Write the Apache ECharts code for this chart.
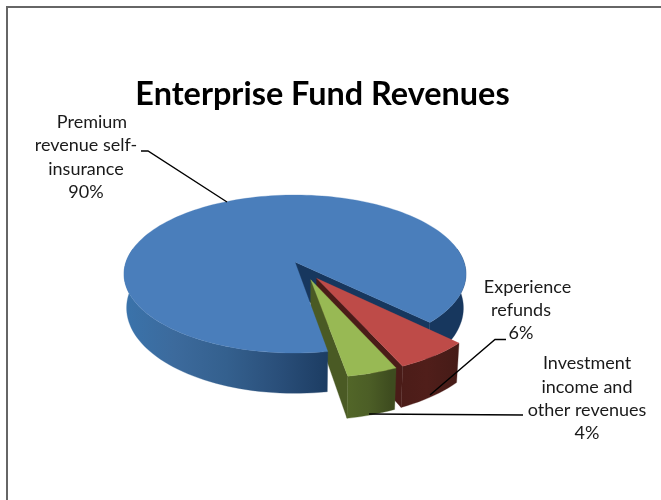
<!DOCTYPE html>
<html><head><meta charset="utf-8">
<style>html,body{margin:0;padding:0;background:#fff}#c{width:661px;height:500px}</style>
<script src="https://cdn.jsdelivr.net/npm/echarts@6/dist/echarts.min.js"></script>
</head><body><div id="c"></div>
<script>
const titleText = 'Enterprise Fund Revenues';
const categories = ['Premium revenue self-insurance', 'Experience refunds', 'Investment income and other revenues'];
const shares = [90, 6, 4];
const labelLines = [
  ['Premium', 'revenue self-', 'insurance', '90%'],
  ['Experience', 'refunds', '6%'],
  ['Investment', 'income and', 'other revenues', '4%']
];

// Layout and look (not data)
const FONT = 'Lato, "Open Sans", sans-serif';
const START_DEG = 80.5, EXPLODE = 0.12;
const OX = 295, OY = 262, BX = 169, BY = 77.2, PK = 0.152;
const labelCenters = [[[92,122],[86,145],[86,169],[86,192]], [[527.5,287],[521,310],[521,333]], [[587,363],[587,387],[587,410],[587,433]]];
const leaders = [[[141,151],[148,151],[227,202]], [[506,339.5],[495,339.5],[430,395]], [[523,415],[369,414]]];
const tops = ['#4a7ebb', '#be4b48', '#98b954'];
const walls = ['#17375e', '#4a1c18', '#4a5a24'];
const lg = (x0, x1, stops) => new echarts.graphic.LinearGradient(x0, 0, x1, 0, stops.map((c, i) => ({offset: i / (stops.length - 1), color: c})), true);
const sides = [
  [lg(124, 329, ['#3a73ab', '#3c6a9c', '#34608e', '#2a4f7a', '#1c3c62']), '#17375e'],
  [lg(393, 460, ['#4a1c18', '#501e1a', '#451b17']), '#451b17'],
  [lg(347, 391, ['#526628', '#4c5e26', '#3e4c1f']), '#3e4c1f']
];

function top3(u, v) { const d = 1 - PK * v; return [OX + BX * u / d, OY + BY * v / d]; }
function bot3(u, v) {
  const p = top3(u, v);
  return [OX + 0.985 * (p[0] - OX), p[1] + 33 + (p[1] - OY) * 0.08];
}
const rad = d => d * Math.PI / 180;
function arc(ax, ay, a0, a1, fn) {
  const pts = [], n = Math.max(2, Math.ceil(Math.abs(a1 - a0) / 2));
  for (let i = 0; i <= n; i++) { const t = rad(a0 + (a1 - a0) * i / n); pts.push(fn(ax + Math.cos(t), ay + Math.sin(t))); }
  return pts;
}
const poly = (pts, fill, z) => ({type: 'polygon', shape: {points: pts}, z2: z, style: {fill: fill, stroke: fill, lineWidth: 0.3}});
const total = shares.reduce((a, b) => a + b, 0);

function renderSlice(params, api) {
  const i = api.value(0), val = api.value(1);
  let before = 0; for (let k = 0; k < i; k++) before += shares[k];
  const a0 = START_DEG + before / total * 360, a1 = a0 + val / total * 360, mid = rad((a0 + a1) / 2);
  // apex offset, with first slice apex as projection origin
  const m0 = rad(START_DEG + shares[0] / total * 180);
  const ax = EXPLODE * (Math.cos(mid) - Math.cos(m0)), ay = EXPLODE * (Math.sin(mid) - Math.sin(m0));
  const kids = [];
  // radial walls facing the viewer
  [[a0, -1], [a1, 1]].forEach(([a, s]) => {
    const t = rad(a), ny = Math.cos(t) * s;
    if (ny > 0) {
      const u = ax + Math.cos(t), v = ay + Math.sin(t);
      kids.push(poly([top3(ax, ay), top3(u, v), bot3(u, v), bot3(ax, ay)], walls[i], 1));
    }
  });
  // outer rim, front half only
  const ranges = [];
  for (let k = -1; k <= 1; k++) {
    const lo = Math.max(a0, -10 + 360 * k), hi = Math.min(a1, 190 + 360 * k);
    if (hi > lo) ranges.push([lo, hi]);
  }
  ranges.forEach(([lo, hi]) => {
    const t = arc(ax, ay, lo, hi, top3), b = arc(ax, ay, lo, hi, bot3).reverse();
    const isRight = ((lo % 360) + 360) % 360 > 270 || ((lo % 360) + 360) % 360 < 30;
    kids.push(poly(t.concat(b), sides[i][i === 0 && isRight ? 1 : 0], 2));
  });
  // top face
  kids.push(poly([top3(ax, ay)].concat(arc(ax, ay, a0, a1, top3)), tops[i], 3));
  return {type: 'group', children: kids};
}

function renderLabels(params, api) {
  const i = api.value(0), kids = [];
  kids.push({type: 'polyline', z2: 20, shape: {points: leaders[i]}, style: {fill: null, stroke: '#000', lineWidth: 1.4}});
  labelLines[i].forEach((line, k) => kids.push({type: 'text', z2: 21, x: labelCenters[i][k][0], y: labelCenters[i][k][1],
    style: {text: line, font: '18px ' + FONT, fill: '#1a1a1a', align: 'center', verticalAlign: 'middle'}}));
  return {type: 'group', children: kids};
}

const rows = categories.map((c, i) => [i, shares[i], c]);
const chart = echarts.init(document.getElementById('c'), null, {renderer: 'canvas'});
chart.setOption({
  animation: false,
  backgroundColor: '#fff',
  title: {text: titleText, left: 317.5, top: 74, textAlign: 'center',
    textStyle: {fontFamily: FONT, fontWeight: 'bold', fontSize: 32.4, color: '#000'}},
  graphic: [
    {type: 'line', shape: {x1: 6, y1: 7, x2: 661, y2: 7}, style: {stroke: '#666', lineWidth: 2}},
    {type: 'line', shape: {x1: 7, y1: 6, x2: 7, y2: 500}, style: {stroke: '#666', lineWidth: 2}}
  ],
  series: [
    {type: 'custom', coordinateSystem: 'none', data: rows, renderItem: renderSlice, silent: true, z: 2},
    {type: 'custom', coordinateSystem: 'none', data: rows, renderItem: renderLabels, silent: true, z: 3}
  ]
});
</script></body></html>
